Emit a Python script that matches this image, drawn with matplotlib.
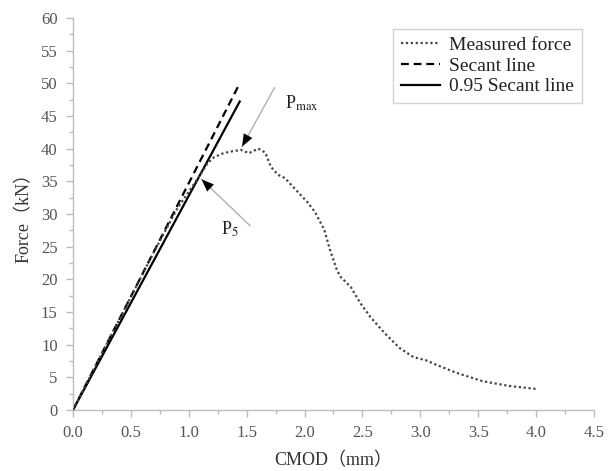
import matplotlib
matplotlib.use("Agg")
import matplotlib.pyplot as plt
from matplotlib.ticker import MultipleLocator, FormatStrFormatter

# Data
cmod = [0, 0.1, 0.3, 0.5, 0.7, 0.9, 1.0, 1.1, 1.16, 1.22, 1.3, 1.38, 1.45, 1.52, 1.6, 1.66,
        1.71, 1.77, 1.83, 1.94, 2.03, 2.09, 2.17, 2.22, 2.28, 2.31, 2.40, 2.48, 2.57, 2.69,
        2.82, 2.94, 3.05, 3.14, 3.31, 3.54, 3.76, 4.01]
force = [0, 3.5, 10.4, 17.3, 24.2, 30.8, 33.4, 36.0, 37.7, 38.7, 39.3, 39.6, 39.8, 39.3, 40.0, 39.4,
         37.2, 36.0, 35.5, 33.4, 31.7, 30.3, 27.6, 24.5, 21.4, 20.4, 18.8, 16.4, 14.2, 11.8,
         9.5, 8.1, 7.6, 6.9, 5.7, 4.4, 3.7, 3.2]
secant_x = [0, 1.435]
secant_y = [0, 49.8]
sec95_x = [0, 1.44]
sec95_y = [0, 47.2]
pmax_line = ([1.74, 1.46], [49.3, 40.3])
p5_line = ([1.53, 1.11], [28.2, 35.3])

plt.rcParams['mathtext.fontset'] = 'stix'
serif = ['Liberation Serif', 'Noto Sans CJK SC', 'DejaVu Sans']

fig = plt.figure(figsize=(6.08, 4.71), dpi=100)
ax = fig.add_axes([0.12, 0.1295, 0.857, 0.8325])

ax.plot(cmod, force, color='#444444', lw=1.6, linestyle=(0, (1, 1.2)), label='Measured force', zorder=3)
ax.plot(secant_x, secant_y, color='black', lw=1.6, linestyle=(0, (3.5, 2.2)), label='Secant line')
ax.plot(sec95_x, sec95_y, color='black', lw=1.6, linestyle='-', label='0.95 Secant line')

# Arrows
for (lx, ly) in (pmax_line, p5_line):
    ax.plot(lx, ly, color='#b0b0b0', lw=1.0, zorder=2)
    tx, ty = lx[1], ly[1]
    bx = tx + (lx[0] - tx) * 0.3
    by = ty + (ly[0] - ty) * 0.3
    ax.annotate('', xy=(tx, ty), xytext=(bx, by),
                arrowprops=dict(arrowstyle='-|>,head_length=0.9,head_width=0.35',
                                color='black', lw=0.01, shrinkA=0, shrinkB=0), zorder=4)

ax.text(1.83, 47.0, r'P$_{\mathrm{max}}$', fontsize=13, family=serif, va='center', ha='left', color='#222222')
ax.text(1.28, 27.6, r'P$_{\mathrm{5}}$', fontsize=13, family=serif, va='center', ha='left', color='#222222')

ax.set_xlim(0, 4.5)
ax.set_ylim(0, 60)
ax.xaxis.set_major_locator(MultipleLocator(0.5))
ax.xaxis.set_minor_locator(MultipleLocator(0.25))
ax.yaxis.set_major_locator(MultipleLocator(5))
ax.yaxis.set_minor_locator(MultipleLocator(2.5))
ax.xaxis.set_major_formatter(FormatStrFormatter('%.1f'))

for s in ('top', 'right'):
    ax.spines[s].set_visible(False)
for s in ('left', 'bottom'):
    ax.spines[s].set_color('#bdbdbd')
    ax.spines[s].set_linewidth(1.0)

ax.tick_params(which='both', direction='out', color='#bdbdbd', width=1.0)
ax.tick_params(which='major', length=5, labelsize=12, labelcolor='#555555', pad=6)
ax.tick_params(which='minor', length=3)
for lab in ax.get_xticklabels() + ax.get_yticklabels():
    lab.set_family(serif)

ax.set_xlabel('CMOD（mm）', fontsize=13, family=serif, color='#333333', labelpad=8)
ax.set_ylabel('Force（kN）', fontsize=13, family=serif, color='#333333', labelpad=6)

leg = ax.legend(loc='upper right', bbox_to_anchor=(0.977, 0.972), borderaxespad=0,
                frameon=True, fancybox=False, edgecolor='#c8c8c8',
                prop={'family': serif, 'size': 14}, handlelength=2.0,
                labelspacing=0.15, handletextpad=0.5, borderpad=0.4)
leg.get_frame().set_linewidth(1.0)
for t in leg.get_texts():
    t.set_color('#222222')

fig.savefig('out.png', dpi=100)
